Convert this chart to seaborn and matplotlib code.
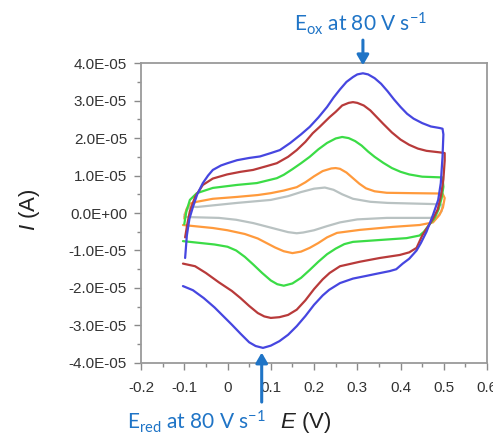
import pandas as pd
import matplotlib
matplotlib.use("Agg")
import matplotlib.pyplot as plt
from matplotlib.ticker import MultipleLocator, FuncFormatter
import seaborn as sns

# current in units of 1e-5 A, potential in V; each scan is forward then reverse
scale = 1e-5

blue_E = [-0.098, -0.094, -0.088, -0.080, -0.070, -0.057, -0.045, -0.034, -0.015, 0.000,
          0.022, 0.050, 0.075, 0.100, 0.121, 0.145, 0.170, 0.190, 0.210, 0.230,
          0.245, 0.260, 0.275, 0.290, 0.300, 0.313, 0.325, 0.340, 0.355, 0.370,
          0.385, 0.400, 0.415, 0.430, 0.450, 0.470, 0.490, 0.497,
          0.499, 0.497, 0.493, 0.487, 0.475, 0.460, 0.447, 0.437, 0.420, 0.405,
          0.390, 0.375, 0.345, 0.320, 0.290, 0.260, 0.235, 0.220, 0.200, 0.180,
          0.160, 0.140, 0.120, 0.100, 0.082, 0.065, 0.050, 0.030, 0.010, -0.010,
          -0.030, -0.055, -0.080, -0.103]
blue_I = [-1.20, -0.60, -0.15, 0.16, 0.50, 0.80, 1.00, 1.15, 1.27, 1.33,
          1.41, 1.47, 1.51, 1.60, 1.68, 1.87, 2.10, 2.30, 2.55, 2.83,
          3.08, 3.30, 3.50, 3.63, 3.70, 3.73, 3.70, 3.60, 3.45, 3.25,
          3.03, 2.83, 2.65, 2.52, 2.40, 2.31, 2.27, 2.25,
          2.10, 1.50, 0.80, 0.35, -0.05, -0.50, -0.80, -1.00, -1.22, -1.35,
          -1.50, -1.55, -1.62, -1.68, -1.75, -1.87, -2.05, -2.20, -2.45, -2.75,
          -3.02, -3.25, -3.42, -3.54, -3.60, -3.55, -3.45, -3.22, -2.98, -2.75,
          -2.52, -2.27, -2.06, -1.95]

red_E = [-0.098, -0.093, -0.087, -0.075, -0.057, -0.034, -0.001, 0.030, 0.059, 0.090,
         0.114, 0.140, 0.160, 0.180, 0.197, 0.213, 0.236, 0.250, 0.265, 0.280,
         0.290, 0.300, 0.315, 0.330, 0.345, 0.360, 0.380, 0.400, 0.420, 0.440,
         0.460, 0.490, 0.502,
         0.502, 0.499, 0.494, 0.486, 0.475, 0.467, 0.450, 0.437, 0.420, 0.398,
         0.352, 0.306, 0.260, 0.236, 0.220, 0.200, 0.180, 0.160, 0.140, 0.120,
         0.100, 0.085, 0.070, 0.050, 0.030, 0.010, -0.020, -0.050, -0.075, -0.103]
red_I = [-0.65, -0.30, 0.05, 0.43, 0.75, 0.92, 1.03, 1.10, 1.15, 1.25,
         1.33, 1.50, 1.68, 1.90, 2.13, 2.30, 2.56, 2.70, 2.87, 2.94,
         2.96, 2.94, 2.87, 2.74, 2.56, 2.38, 2.15, 1.96, 1.82, 1.72,
         1.66, 1.62, 1.60,
         1.40, 0.90, 0.50, 0.10, -0.15, -0.30, -0.60, -0.93, -1.05, -1.12,
         -1.20, -1.30, -1.42, -1.60, -1.77, -2.03, -2.33, -2.58, -2.72, -2.78,
         -2.80, -2.76, -2.67, -2.48, -2.27, -2.08, -1.85, -1.60, -1.42, -1.35]

green_E = [-0.100, -0.095, -0.087, -0.071, -0.034, 0.022, 0.068, 0.114, 0.130, 0.150,
           0.170, 0.190, 0.210, 0.230, 0.250, 0.265, 0.280, 0.295, 0.310, 0.325,
           0.340, 0.360, 0.380, 0.400, 0.420, 0.450, 0.497,
           0.499, 0.495, 0.488, 0.478, 0.467, 0.454, 0.444, 0.414, 0.352, 0.290,
           0.270, 0.250, 0.230, 0.210, 0.190, 0.170, 0.150, 0.130, 0.115, 0.100,
           0.080, 0.060, 0.040, 0.020, 0.000, -0.030, -0.087, -0.103]
green_I = [-0.30, 0.05, 0.35, 0.53, 0.67, 0.75, 0.80, 0.93, 1.02, 1.17,
           1.33, 1.50, 1.70, 1.87, 1.99, 2.03, 2.00, 1.92, 1.80, 1.64,
           1.50, 1.34, 1.20, 1.10, 1.03, 0.97, 0.95,
           0.70, 0.40, 0.10, -0.15, -0.30, -0.50, -0.60, -0.67, -0.72, -0.77,
           -0.83, -0.95, -1.10, -1.30, -1.52, -1.73, -1.88, -1.94, -1.90, -1.80,
           -1.60, -1.38, -1.17, -1.00, -0.90, -0.84, -0.77, -0.75]

orange_E = [-0.100, -0.095, -0.087, -0.071, -0.034, 0.022, 0.070, 0.100, 0.130, 0.160,
            0.180, 0.200, 0.220, 0.240, 0.250, 0.260, 0.275, 0.290, 0.305, 0.320,
            0.340, 0.368, 0.428, 0.497,
            0.502, 0.498, 0.490, 0.475, 0.444, 0.382, 0.306, 0.253, 0.230, 0.210,
            0.190, 0.170, 0.150, 0.130, 0.110, 0.090, 0.070, 0.040, 0.000, -0.034,
            -0.103]
orange_I = [-0.15, 0.10, 0.25, 0.30, 0.38, 0.43, 0.48, 0.53, 0.60, 0.69,
            0.82, 0.98, 1.12, 1.19, 1.20, 1.18, 1.08, 0.93, 0.78, 0.66,
            0.58, 0.54, 0.53, 0.52,
            0.40, 0.15, -0.05, -0.25, -0.32, -0.37, -0.45, -0.53, -0.65, -0.80,
            -0.93, -1.03, -1.07, -1.02, -0.92, -0.80, -0.68, -0.56, -0.46, -0.40,
            -0.32]

gray_E = [-0.100, -0.093, -0.085, -0.071, 0.022, 0.100, 0.140, 0.170, 0.200, 0.225,
          0.245, 0.265, 0.290, 0.330, 0.370, 0.474, 0.497,
          0.495, 0.485, 0.467, 0.368, 0.300, 0.260, 0.230, 0.200, 0.175, 0.160,
          0.140, 0.120, 0.090, 0.060, 0.020, -0.020, -0.087, -0.100]
gray_I = [-0.05, 0.10, 0.18, 0.16, 0.27, 0.35, 0.45, 0.56, 0.65, 0.68,
          0.62, 0.50, 0.38, 0.30, 0.27, 0.24, 0.22,
          0.05, -0.10, -0.13, -0.13, -0.17, -0.25, -0.35, -0.46, -0.52, -0.54,
          -0.51, -0.45, -0.36, -0.27, -0.18, -0.13, -0.11, -0.10]

scans = ["gray", "orange", "green", "red", "blue"]
colors = ["#b9c2c2", "#ff9a3c", "#3bdc46", "#b83a3a", "#4646e0"]

frames = []
for name, E, I in [("gray", gray_E, gray_I), ("orange", orange_E, orange_I),
                   ("green", green_E, green_I), ("red", red_E, red_I),
                   ("blue", blue_E, blue_I)]:
    frames.append(pd.DataFrame({"E": E, "I": [v * scale for v in I], "scan": name}))
df = pd.concat(frames, ignore_index=True)

sns.set_style("white")
plt.rcParams["mathtext.fontset"] = "custom"
plt.rcParams["mathtext.rm"] = "Liberation Sans"
plt.rcParams["mathtext.it"] = "Liberation Sans:italic"

fig = plt.figure(figsize=(4.93, 4.48), dpi=100)
ax = fig.add_axes([0.286, 0.190, 0.702, 0.669])

sns.lineplot(data=df, x="E", y="I", hue="scan", hue_order=scans,
             palette=dict(zip(scans, colors)), sort=False, estimator=None,
             linewidth=1.6, legend=False, ax=ax)

ax.set_xlim(-0.2, 0.6)
ax.set_ylim(-4e-5, 4e-5)
ax.xaxis.set_major_locator(MultipleLocator(0.1))
ax.xaxis.set_minor_locator(MultipleLocator(0.05))
ax.yaxis.set_major_locator(MultipleLocator(1e-5))
ax.yaxis.set_minor_locator(MultipleLocator(0.5e-5))
ax.xaxis.set_major_formatter(FuncFormatter(lambda v, p: "0" if abs(v) < 1e-9 else f"{v:.1f}"))
ax.yaxis.set_major_formatter(FuncFormatter(lambda v, p: f"{v:.1E}"))

for s in ax.spines.values():
    s.set_color("#9a9a9a")
    s.set_linewidth(1.3)
ax.tick_params(which="both", direction="out", color="#8a8a8a", width=1.0,
               left=True, bottom=True, labelsize=11, labelcolor="#333333")
ax.tick_params(which="major", length=5)
ax.tick_params(which="minor", length=3)
ax.tick_params(axis="y", pad=5)
ax.tick_params(axis="x", pad=8)
for lab in ax.get_xticklabels() + ax.get_yticklabels():
    lab.set_family("Liberation Sans")
ax.set_xlabel("")
ax.set_ylabel("")

fig.text(30 / 493, 1 - 210 / 448, "$\\it{I}$ (A)", rotation=90, fontsize=16,
         color="#222222", ha="center", va="center", family="Liberation Sans")
fig.text(306 / 493, 1 - 422 / 448, "$\\it{E}$ (V)", fontsize=16,
         color="#222222", ha="center", va="center", family="Liberation Sans")

blue_txt = "#1f74c6"
fig.text(361 / 493, 1 - 24 / 448, "E$_{\\mathregular{ox}}$ at 80 V s$^{\\mathregular{-1}}$",
         fontsize=15, color=blue_txt, ha="center", va="center", family="Lato")
fig.text(196 / 493, 1 - 422 / 448, "E$_{\\mathregular{red}}$ at 80 V s$^{\\mathregular{-1}}$",
         fontsize=15, color=blue_txt, ha="center", va="center", family="Lato")

arrow = dict(arrowstyle="-|>,head_width=0.35,head_length=0.6", color=blue_txt, lw=2.2)
ax.annotate("", xy=(0.313, 3.87e-5), xytext=(0.313, 4.69e-5), arrowprops=arrow,
            annotation_clip=False)
ax.annotate("", xy=(0.079, -3.65e-5), xytext=(0.079, -5.12e-5), arrowprops=arrow,
            annotation_clip=False)

fig.savefig("out.png", dpi=100)
